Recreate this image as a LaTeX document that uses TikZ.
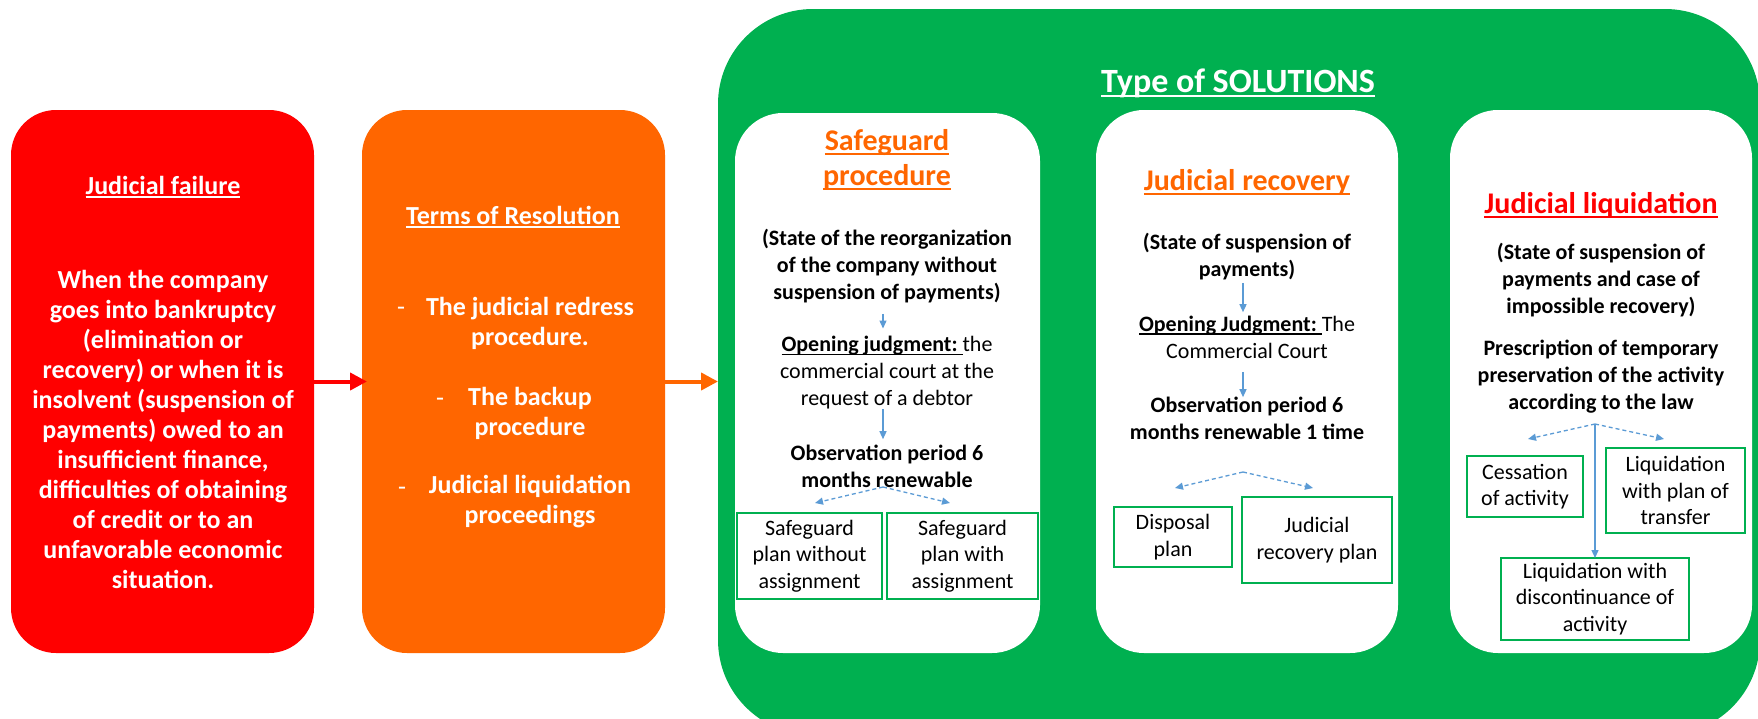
\documentclass[tikz,border=0pt]{standalone}
\usepackage{fontspec}
\setmainfont{Carlito}
\usetikzlibrary{arrows.meta,calc}

\definecolor{failred}{HTML}{FF0000}
\definecolor{resorange}{HTML}{FF6600}
\definecolor{solgreen}{HTML}{00B050}
\definecolor{linkblue}{HTML}{5B9BD5}

% underline drawn at a fixed depth below the baseline
\newcommand\ulined[1]{\setbox0=\hbox{#1}\rlap{\rule[-0.15em]{\wd0}{0.07em}}\box0}

\tikzset{
  every node/.style={inner sep=0pt, outer sep=0pt},
  bigbox/.style={rounded corners=45pt, minimum width=303pt, minimum height=543pt},
  panel/.style={fill=white, rounded corners=48pt, minimum width=302pt, minimum height=543pt},
  wtxt/.style={text=white, align=center, font=\fontsize{26}{30}\selectfont\bfseries},
  dashmark/.style={text=white, font=\fontsize{26}{30}\selectfont},
  ttl/.style={align=center, font=\fontsize{30}{35}\selectfont\bfseries},
  btxt/.style={align=center, font=\fontsize{22}{27}\selectfont\bfseries},
  rtxt/.style={align=center, font=\fontsize{22}{27}\selectfont},
  planbox/.style={draw=solgreen, line width=2pt, align=center, font=\fontsize{22}{26.5}\selectfont},
  bigarrow/.style={line width=4pt, -{Triangle[length=17pt,width=17pt]}},
  link/.style={draw=linkblue, line width=1.3pt, -{Triangle[length=8pt,width=7pt]}},
  dlink/.style={link, dash pattern=on 4pt off 3pt},
}

\begin{document}
\begin{tikzpicture}[x=1pt, y=-1pt]
\useasboundingbox (0,0) rectangle (1758,718);
\clip (0,0) rectangle (1758,718);
\fill[white] (0,0) rectangle (1758,718);

% left-hand boxes
\node[bigbox, fill=failred] (fail) at (162.5,381.5) {};
\node[bigbox, fill=resorange] (terms) at (513.5,381.5) {};

% solutions frame and its three panels
\node[fill=solgreen, rounded corners=95pt, minimum width=1042pt, minimum height=726pt] (sol) at (1239,372) {};
\node[panel, minimum width=305pt, minimum height=540pt] (p1) at (887.5,383) {};
\node[panel] (p2) at (1247,381.5) {};
\node[panel] (p3) at (1601,381.5) {};

% main flow
\draw[bigarrow, failred, shorten >=-5pt] (fail) -- (terms);
\draw[bigarrow, resorange] (terms.east) -- (terms.east -| sol.west);

% judicial failure
\node[wtxt] (failT) at (163,187) {\ulined{Judicial failure}};
\node[wtxt] (failB) at (163,429) {When the company\\goes into bankruptcy\\(elimination or\\recovery) or when it is\\insolvent (suspension of\\payments) owed to an\\insufficient finance,\\difficulties of obtaining\\of credit or to an\\unfavorable economic\\situation.};

% terms of resolution
\node[wtxt] (termsT) at (513,217) {\ulined{Terms of Resolution}};
\node[wtxt] (r1) at (530,323) {The judicial redress\\procedure.};
\node[wtxt] (r2) at (530,413) {The backup\\procedure};
\node[wtxt] (r3) at (530,502) {Judicial liquidation\\proceedings};
\node[dashmark] (m1) at (401,311) {-};
\node[dashmark] (m2) at (440,402) {-};
\node[dashmark] (m3) at (402,491) {-};

% solutions title
\node[text=white, font=\fontsize{34}{40}\selectfont\bfseries] (solT) at (1238,83) {\ulined{Type of SOLUTIONS}};

% safeguard procedure
\node[ttl, text=resorange] (s1T) at (887,159.5) {\ulined{Safeguard}\\\ulined{procedure}};
\node[btxt] (s1state) at (887,266) {(State of the reorganization\\of the company without\\suspension of payments)};
\node[rtxt] (s1open) at (887,373) {\ulined{\textbf{Opening judgment:}\ }the\\commercial court at the\\request of a debtor};
\node[btxt] (s1obs) at (887,466.5) {Observation period 6\\months renewable};
\node[planbox, minimum width=145pt, minimum height=86pt] (s1a) at (809.5,556) {Safeguard\\plan without\\assignment};
\node[planbox, minimum width=151pt, minimum height=86pt] (s1b) at (962.5,556) {Safeguard\\plan with\\assignment};
\coordinate (f1) at (883,487);
\coordinate (e1a) at (815,503);
\coordinate (e1b) at (950,503);
\draw[link, shorten <=11pt, shorten >=8pt] (s1state.south -| f1) -- (s1open.north -| f1);
\draw[link, shorten >=6pt] (s1open.south -| f1) -- (s1obs.north -| f1);
\draw[dlink] (f1) -- (e1a);
\draw[dlink] (f1) -- (e1b);

% judicial recovery
\node[ttl, text=resorange] (s2T) at (1247,182) {\ulined{Judicial recovery}};
\node[btxt] (s2state) at (1247,256.5) {(State of suspension of\\payments)};
\node[rtxt] (s2open) at (1247,337.5) {\ulined{\textbf{Opening Judgment:}\ }The\\Commercial Court};
\node[btxt] (s2obs) at (1247,418.5) {Observation period 6\\months renewable 1 time};
\node[planbox, minimum width=118pt, minimum height=60pt] (s2a) at (1173,537) {Disposal\\plan};
\node[planbox, minimum width=150pt, minimum height=86pt] (s2b) at (1317,540) {Judicial\\recovery plan};
\coordinate (f2) at (1243,472);
\coordinate (e2a) at (1175,488);
\coordinate (e2b) at (1313,488);
\draw[link, shorten <=3pt, shorten >=4pt] (s2state.south -| f2) -- (s2open.north -| f2);
\draw[link, shorten <=13pt] (s2open.south -| f2) -- (s2obs.north -| f2);
\draw[dlink] (f2) -- (e2a);
\draw[dlink] (f2) -- (e2b);

% judicial liquidation
\node[ttl, text=failred] (s3T) at (1601,205) {\ulined{Judicial liquidation}};
\node[btxt] (s3state) at (1601,280) {(State of suspension of\\payments and case of\\impossible recovery)};
\node[btxt] (s3pres) at (1601,377) {Prescription of temporary\\preservation of the activity\\according to the law};
\node[planbox, minimum width=116pt, minimum height=61pt] (s3a) at (1525,486.5) {Cessation\\of activity};
\node[planbox, minimum width=139pt, minimum height=85pt] (s3b) at (1675.5,490.5) {Liquidation\\with plan of\\transfer};
\node[planbox, minimum width=188pt, minimum height=82pt] (s3c) at (1595,599) {Liquidation with\\discontinuance of\\activity};
\coordinate (f3) at (1595,424);
\coordinate (e3a) at (1528,439);
\coordinate (e3b) at (1664,439);
\draw[dlink] (f3) -- (e3a);
\draw[dlink] (f3) -- (e3b);
\draw[link] (f3) -- (s3c.north);
\end{tikzpicture}
\end{document}
